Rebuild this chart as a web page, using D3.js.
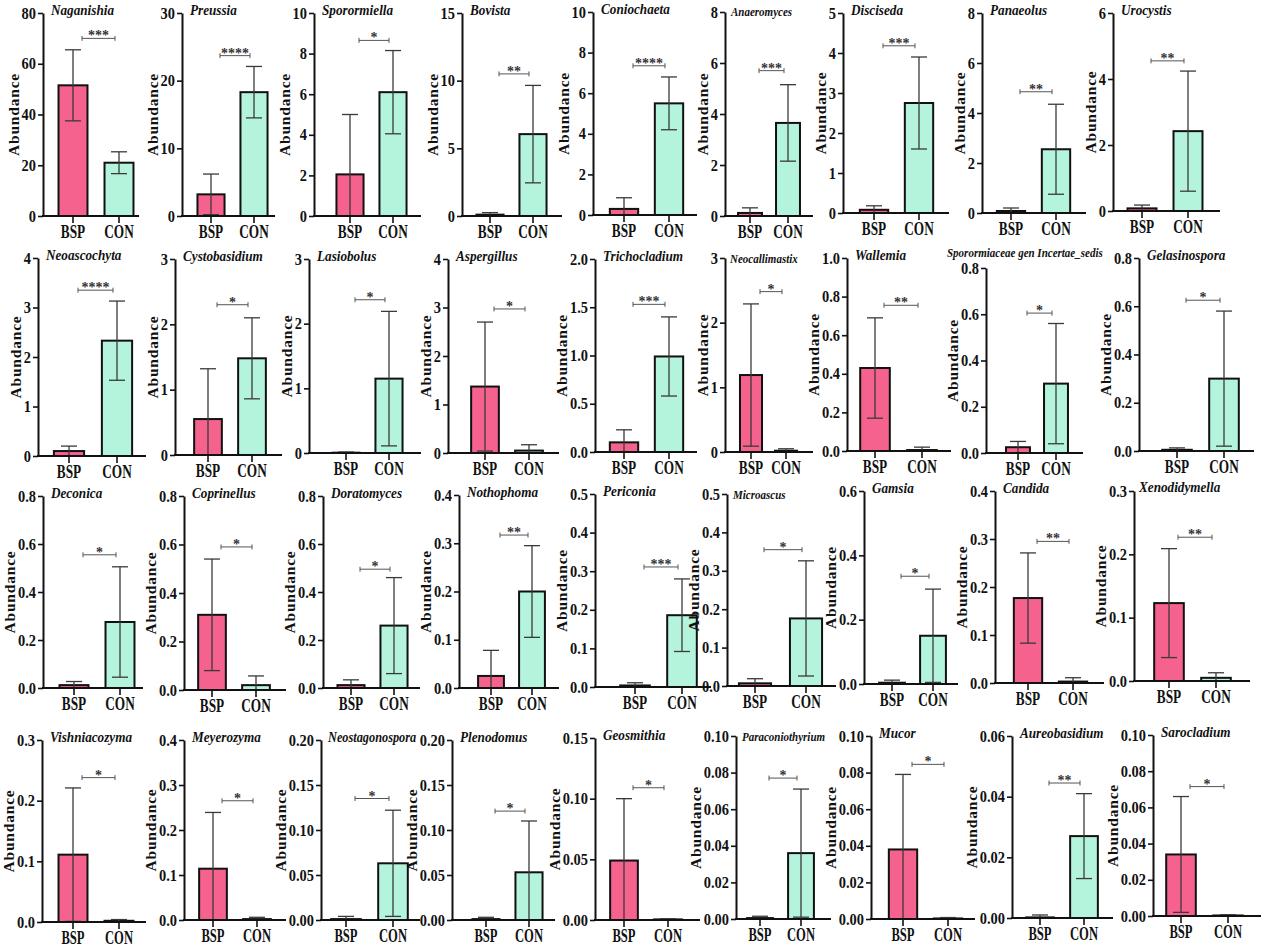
<!DOCTYPE html>
<html>
<head>
<meta charset="utf-8">
<script src="https://cdn.jsdelivr.net/npm/d3@7"></script>
<style>
  body { margin: 0; background: #fff; }
  svg text { font-family: 'Liberation Serif', 'Times New Roman', serif; font-weight: bold; }
</style>
</head>
<body>
<svg id="chart"></svg>
<script>
// ---- data ----
const groups = ['BSP', 'CON'];
const genera = [
  'Naganishia', 'Preussia', 'Sporormiella', 'Bovista', 'Coniochaeta', 'Anaeromyces', 'Disciseda', 'Panaeolus', 'Urocystis',
  'Neoascochyta', 'Cystobasidium', 'Lasiobolus', 'Aspergillus', 'Trichocladium', 'Neocallimastix', 'Wallemia', 'Sporormiaceae gen Incertae_sedis', 'Gelasinospora',
  'Deconica', 'Coprinellus', 'Doratomyces', 'Nothophoma', 'Periconia', 'Microascus', 'Gamsia', 'Candida', 'Xenodidymella',
  'Vishniacozyma', 'Meyerozyma', 'Neostagonospora', 'Plenodomus', 'Geosmithia', 'Paraconiothyrium', 'Mucor', 'Aureobasidium', 'Sarocladium'
];
const yMax = [80, 30, 10, 15, 10, 8, 5, 8, 6,
  4, 3, 3, 4, 2, 3, 1, 0.8, 0.8,
  0.8, 0.8, 0.8, 0.4, 0.5, 0.5, 0.6, 0.4, 0.3,
  0.3, 0.4, 0.2, 0.2, 0.15, 0.1, 0.1, 0.06, 0.1];
const yStep = [20, 10, 2, 5, 2, 2, 1, 2, 2,
  1, 1, 1, 1, 0.5, 1, 0.2, 0.2, 0.2,
  0.2, 0.2, 0.2, 0.1, 0.1, 0.1, 0.2, 0.1, 0.1,
  0.1, 0.1, 0.05, 0.05, 0.05, 0.02, 0.02, 0.02, 0.02];
const bspMean = [51.5, 3.2, 2.05, 0.1, 0.3, 0.12, 0.08, 0.08, 0.08,
  0.1, 0.55, 0.005, 1.37, 0.1, 1.19, 0.43, 0.025, 0.005,
  0.012, 0.31, 0.012, 0.025, 0.004, 0.007, 0.004, 0.177, 0.123,
  0.111, 0.114, 0.001, 0.001, 0.049, 0.0005, 0.038, 0.0002, 0.034];
const bspSd = [14, 3, 2.95, 0.15, 0.55, 0.2, 0.1, 0.12, 0.1,
  0.1, 0.77, 0.01, 1.33, 0.13, 1.1, 0.26, 0.025, 0.008,
  0.015, 0.23, 0.022, 0.053, 0.007, 0.012, 0.008, 0.094, 0.086,
  0.11, 0.125, 0.003, 0.002, 0.051, 0.001, 0.041, 0.0008, 0.032];
const conMean = [21, 18.3, 6.1, 6.05, 5.5, 3.65, 2.75, 2.55, 2.42,
  2.33, 1.48, 1.15, 0.05, 0.99, 0.02, 0.005, 0.3, 0.3,
  0.275, 0.02, 0.26, 0.2, 0.186, 0.176, 0.15, 0.003, 0.005,
  0.002, 0.002, 0.063, 0.053, 0.0005, 0.036, 0.0003, 0.027, 0.0003];
const conSd = [4.3, 3.8, 2.05, 3.6, 1.3, 1.5, 1.15, 1.8, 1.82,
  0.8, 0.62, 1.04, 0.12, 0.41, 0.03, 0.015, 0.26, 0.28,
  0.23, 0.038, 0.2, 0.095, 0.094, 0.15, 0.145, 0.008, 0.008,
  0.002, 0.004, 0.059, 0.057, 0.0005, 0.035, 0.0005, 0.014, 0.0004];
const sigLabel = ['***', '****', '*', '**', '****', '***', '***', '**', '**',
  '****', '*', '*', '*', '***', '*', '**', '*', '*',
  '*', '*', '*', '**', '***', '*', '*', '**', '**',
  '*', '*', '*', '*', '*', '*', '*', '**', '*'];
const sigLevel = [70, 23.7, 8.65, 10.5, 7.35, 5.7, 4.18, 4.85, 4.55,
  3.35, 2.3, 2.37, 2.97, 1.53, 2.48, 0.755, 0.605, 0.625,
  0.555, 0.59, 0.495, 0.317, 0.311, 0.355, 0.335, 0.295, 0.227,
  0.238, 0.265, 0.135, 0.121, 0.109, 0.077, 0.0845, 0.0445, 0.0715];

// ---- layout of the small panels (axis x, top y, zero y, BSP offset, CON offset, x-axis length) ----
const panelBox = [
  [43, 13, 216, 30, 76, 96], [182, 13, 216, 29, 72, 93], [314, 13, 216, 36, 79, 107],
  [462, 13, 216, 28, 71, 100], [593, 12, 215, 31, 76, 104], [725, 12, 216, 25, 63, 88],
  [843, 13, 213, 31, 76, 106], [982, 13, 213, 29, 74, 104], [1113, 13, 211, 29, 75, 107],
  [38, 258, 456, 31, 79, 108], [175, 259, 455, 33, 77, 107], [309, 259, 453, 37, 80, 112],
  [448, 259, 453, 37, 81, 111], [595, 259, 452, 29, 74, 102], [725, 258, 452, 26, 61, 88],
  [847, 258, 451, 28, 75, 104], [986, 268, 453, 32, 70, 97], [1139, 258, 451, 38, 85, 115],
  [43, 496, 688, 31, 77, 100], [184, 496, 690, 28, 72, 102], [323, 496, 688, 28, 71, 97],
  [459, 495, 688, 32, 73, 100], [595, 494, 687, 40, 87, 116], [727, 494, 686, 28, 79, 109],
  [864, 491, 684, 28, 69, 94], [995, 491, 683, 33, 78, 109], [1134, 491, 681, 35, 82, 116],
  [42, 740, 922, 31, 77, 104], [184, 740, 920, 29, 73, 102], [321, 740, 920, 25, 72, 99],
  [452, 740, 920, 34, 77, 103], [595, 738, 920, 29, 73, 105], [736, 736, 919, 24, 65, 95],
  [871, 736, 919, 32, 77, 104], [1012, 736, 918, 28, 72, 101], [1153, 735, 916, 28, 75, 108]
];
// title placement: [dx, dy, font size]
const titleDefault = [8, 2, 15];
const titleTweak = {
  5: [6, 4, 12.5], 14: [5, 5, 12.5], 16: [-39, -11, 12.5], 23: [6, 5, 12.5],
  26: [5, 1, 15], 29: [7, 2, 14], 32: [6, 5, 12.5]
};

const SX = 0.7;           // condensed category labels
const colors = { BSP: '#f5628e', CON: '#b4f4dc' };

const svg = d3.select('#chart').attr('width', 1261).attr('height', 948);

genera.forEach((name, i) => {
  const [x0, top, base, bOff, cOff, len] = panelBox[i];
  const step = cOff - bOff;
  const g = svg.append('g').attr('class', 'panel');

  const y = d3.scaleLinear().domain([0, yMax[i]]).range([base, top]);
  const x = d3.scaleBand()
    .domain(groups)
    .range([x0 + bOff - step / 2, x0 + cOff + step / 2])
    .paddingInner(0.37)
    .paddingOuter(0.185);
  const bw = x.bandwidth();
  const cx = (k) => x(k) + bw / 2;

  const rows = [
    { k: 'BSP', m: bspMean[i], sd: bspSd[i] },
    { k: 'CON', m: conMean[i], sd: conSd[i] }
  ];

  // bars
  g.selectAll('.bar')
    .data(rows)
    .enter()
    .append('rect')
    .attr('class', 'bar')
    .attr('x', (d) => x(d.k))
    .attr('width', bw)
    .attr('y', (d) => y(d.m))
    .attr('height', (d) => base - y(d.m))
    .attr('fill', (d) => colors[d.k])
    .attr('stroke', '#111')
    .attr('stroke-width', 2);

  // error bars (mean ± SD, cut at zero)
  const capW = 8;
  rows.forEach((d) => {
    const lo = Math.max(0, d.m - d.sd);
    const hi = d.m + d.sd;
    const eg = g.append('g').attr('stroke', '#3a3a3a').attr('stroke-width', 1.3);
    eg.append('line')
      .attr('x1', cx(d.k)).attr('x2', cx(d.k))
      .attr('y1', y(lo)).attr('y2', y(hi));
    eg.append('line')
      .attr('x1', cx(d.k) - capW).attr('x2', cx(d.k) + capW)
      .attr('y1', y(hi)).attr('y2', y(hi));
    if (d.m - d.sd > 0) {
      eg.append('line')
        .attr('x1', cx(d.k) - capW).attr('x2', cx(d.k) + capW)
        .attr('y1', y(lo)).attr('y2', y(lo));
    }
  });

  // y axis
  const ticks = d3.range(0, yMax[i] + yStep[i] / 2, yStep[i]);
  const fmt = d3.format('.' + d3.precisionFixed(yStep[i]) + 'f');
  const gy = g.append('g')
    .attr('transform', `translate(${x0},0)`)
    .call(d3.axisLeft(y).tickValues(ticks).tickFormat(fmt).tickSize(5).tickSizeOuter(0));
  gy.attr('font-family', null).attr('font-size', null);
  gy.select('.domain').attr('stroke', '#111').attr('stroke-width', 2);
  gy.selectAll('.tick line').attr('stroke', '#111').attr('stroke-width', 1.6);
  gy.selectAll('.tick text')
    .attr('fill', '#111')
    .attr('font-size', 16)
    .attr('x', -7 / 0.9)
    .attr('transform', 'scale(0.9,1)');

  // x axis
  const lastRow = i >= 27;
  const gx = g.append('g')
    .attr('transform', `translate(0,${base})`)
    .call(d3.axisBottom(x).tickSize(7).tickSizeOuter(0));
  gx.attr('font-family', null).attr('font-size', null);
  gx.select('.domain').remove();
  gx.selectAll('.tick line').attr('stroke', '#111').attr('stroke-width', 1.6);
  gx.selectAll('.tick text')
    .attr('fill', '#111')
    .attr('font-size', lastRow ? 18 : 19)
    .attr('y', 9)
    .attr('transform', `scale(${SX},1)`);
  gx.append('line')
    .attr('x1', x0 - 1).attr('x2', x0 + len)
    .attr('y1', 0).attr('y2', 0)
    .attr('stroke', '#111').attr('stroke-width', 2);

  // y axis label, placed just left of the widest tick label
  const tickBox = gy.node().getBBox();
  g.append('text')
    .attr('transform', `translate(${x0 + tickBox.x - 8},${(top + base) / 2}) rotate(-90)`)
    .attr('text-anchor', 'middle')
    .attr('dy', '0.35em')
    .attr('font-size', 15.5)
    .attr('letter-spacing', 0.8)
    .attr('fill', '#111')
    .text('Abundance');

  // title
  const [tdx, tdy, tfs] = titleTweak[i] || titleDefault;
  g.append('text')
    .attr('transform', `translate(${x0 + tdx},${top + tdy}) scale(0.88,1)`)
    .attr('font-size', tfs)
    .attr('font-style', 'italic')
    .attr('fill', '#111')
    .text(name);

  // significance bracket
  const yb = y(sigLevel[i]);
  const bx1 = cx('BSP') + 9;
  const bx2 = cx('CON') - 4;
  const sg = g.append('g').attr('stroke', '#555').attr('stroke-width', 1);
  sg.append('line').attr('x1', bx1).attr('x2', bx2).attr('y1', yb).attr('y2', yb);
  sg.append('line').attr('x1', bx1).attr('x2', bx1).attr('y1', yb - 2.5).attr('y2', yb + 2.5);
  sg.append('line').attr('x1', bx2).attr('x2', bx2).attr('y1', yb - 2.5).attr('y2', yb + 2.5);
  g.append('text')
    .attr('x', (bx1 + bx2) / 2)
    .attr('y', yb + 2)
    .attr('text-anchor', 'middle')
    .attr('font-size', 14)
    .attr('font-weight', 'normal')
    .attr('fill', '#333')
    .text(sigLabel[i]);
});
</script>
</body>
</html>
